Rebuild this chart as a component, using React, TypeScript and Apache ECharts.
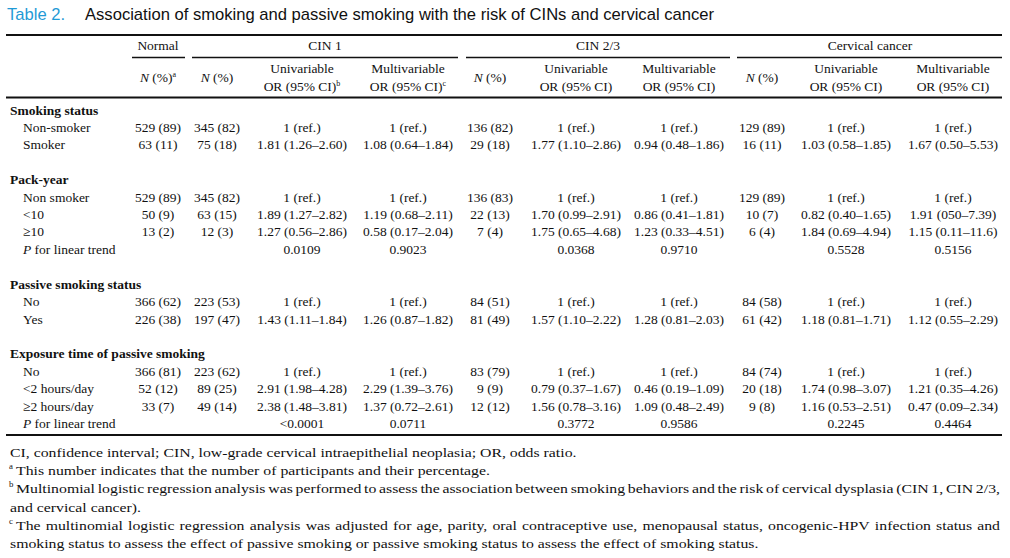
import React, { useEffect, useRef } from "react";
import * as echarts from "echarts";

const titleLabel = "Table 2.";
const titleText = "Association of smoking and passive smoking with the risk of CINs and cervical cancer";
const groups = ["Normal", "CIN 1", "CIN 2/3", "Cervical cancer"];

const rowLabels = [
  "Smoking status", "Non-smoker", "Smoker", "",
  "Pack-year", "Non smoker", "<10", "≥10", "P for linear trend", "",
  "Passive smoking status", "No", "Yes", "",
  "Exposure time of passive smoking", "No", "<2 hours/day", "≥2 hours/day", "P for linear trend",
];
const rowKinds = [
  "h", "i", "i", "b",
  "h", "i", "i", "i", "p", "b",
  "h", "i", "i", "b",
  "h", "i", "i", "i", "p",
];

const normalN = ["", "529 (89)", "63 (11)", "", "", "529 (89)", "50 (9)", "13 (2)", "", "", "", "366 (62)", "226 (38)", "", "", "366 (81)", "52 (12)", "33 (7)", ""];
const cin1N = ["", "345 (82)", "75 (18)", "", "", "345 (82)", "63 (15)", "12 (3)", "", "", "", "223 (53)", "197 (47)", "", "", "223 (62)", "89 (25)", "49 (14)", ""];
const cin1Uni = ["", "1 (ref.)", "1.81 (1.26–2.60)", "", "", "1 (ref.)", "1.89 (1.27–2.82)", "1.27 (0.56–2.86)", "0.0109", "", "", "1 (ref.)", "1.43 (1.11–1.84)", "", "", "1 (ref.)", "2.91 (1.98–4.28)", "2.38 (1.48–3.81)", "<0.0001"];
const cin1Multi = ["", "1 (ref.)", "1.08 (0.64–1.84)", "", "", "1 (ref.)", "1.19 (0.68–2.11)", "0.58 (0.17–2.04)", "0.9023", "", "", "1 (ref.)", "1.26 (0.87–1.82)", "", "", "1 (ref.)", "2.29 (1.39–3.76)", "1.37 (0.72–2.61)", "0.0711"];
const cin23N = ["", "136 (82)", "29 (18)", "", "", "136 (83)", "22 (13)", "7 (4)", "", "", "", "84 (51)", "81 (49)", "", "", "83 (79)", "9 (9)", "12 (12)", ""];
const cin23Uni = ["", "1 (ref.)", "1.77 (1.10–2.86)", "", "", "1 (ref.)", "1.70 (0.99–2.91)", "1.75 (0.65–4.68)", "0.0368", "", "", "1 (ref.)", "1.57 (1.10–2.22)", "", "", "1 (ref.)", "0.79 (0.37–1.67)", "1.56 (0.78–3.16)", "0.3772"];
const cin23Multi = ["", "1 (ref.)", "0.94 (0.48–1.86)", "", "", "1 (ref.)", "0.86 (0.41–1.81)", "1.23 (0.33–4.51)", "0.9710", "", "", "1 (ref.)", "1.28 (0.81–2.03)", "", "", "1 (ref.)", "0.46 (0.19–1.09)", "1.09 (0.48–2.49)", "0.9586"];
const cancerN = ["", "129 (89)", "16 (11)", "", "", "129 (89)", "10 (7)", "6 (4)", "", "", "", "84 (58)", "61 (42)", "", "", "84 (74)", "20 (18)", "9 (8)", ""];
const cancerUni = ["", "1 (ref.)", "1.03 (0.58–1.85)", "", "", "1 (ref.)", "0.82 (0.40–1.65)", "1.84 (0.69–4.94)", "0.5528", "", "", "1 (ref.)", "1.18 (0.81–1.71)", "", "", "1 (ref.)", "1.74 (0.98–3.07)", "1.16 (0.53–2.51)", "0.2245"];
const cancerMulti = ["", "1 (ref.)", "1.67 (0.50–5.53)", "", "", "1 (ref.)", "1.91 (050–7.39)", "1.15 (0.11–11.6)", "0.5156", "", "", "1 (ref.)", "1.12 (0.55–2.29)", "", "", "1 (ref.)", "1.21 (0.35–4.26)", "0.47 (0.09–2.34)", "0.4464"];

const headerSup = ["a", "b", "c"];
const footnotes = [
  { sup: "", text: "CI, confidence interval; CIN, low-grade cervical intraepithelial neoplasia; OR, odds ratio.", justify: false },
  { sup: "a", text: "This number indicates that the number of participants and their percentage.", justify: false },
  { sup: "b", text: "Multinomial logistic regression analysis was performed to assess the association between smoking behaviors and the risk of cervical dysplasia (CIN 1, CIN 2/3,", justify: true },
  { sup: "", text: "and cervical cancer).", justify: false },
  { sup: "c", text: "The multinomial logistic regression analysis was adjusted for age, parity, oral contraceptive use, menopausal status, oncogenic-HPV infection status and", justify: true },
  { sup: "", text: "smoking status to assess the effect of passive smoking or passive smoking status to assess the effect of smoking status.", justify: false },
];

const SERIF = '"Liberation Serif", "Times New Roman", serif';
const SANS = '"Liberation Sans", Arial, sans-serif';
const FS = 13.5;
const FFS = 13.5;
const FSCALE = 1.17;
const INK = "#111";

function T(x: number, y: number, text: string, extra: any = {}, el: any = {}) {
  return {
    type: "text",
    x,
    y,
    silent: true,
    ...el,
    style: {
      text,
      fontFamily: SERIF,
      fontSize: FS,
      fill: INK,
      align: "center",
      verticalAlign: "middle",
      ...extra,
    },
  };
}

const richBase = {
  it: { fontFamily: SERIF, fontSize: FS, fontStyle: "italic", fill: INK },
  n: { fontFamily: SERIF, fontSize: FS, fill: INK },
  sup: { fontFamily: SERIF, fontSize: 8, fill: INK, verticalAlign: "top", padding: [0, 0, 6, 0] },
};

function measure(text: string, font: string) {
  const c = document.createElement("canvas").getContext("2d")!;
  c.font = font;
  return c.measureText(text).width;
}

function buildGraphics() {
  const g: any[] = [];
  // title
  g.push(T(7, 14, titleLabel, { fontFamily: SANS, fontSize: 16.6, fill: "#1f9ad6", align: "left" }));
  g.push(T(85, 14, titleText, { fontFamily: SANS, fontSize: 16.6, fill: "#111", align: "left" }));

  const line = (x1: number, y1: number, x2: number, y2: number, w: number) =>
    g.push({ type: "line", silent: true, shape: { x1, y1, x2, y2 }, style: { stroke: "#111", lineWidth: w } });

  line(6, 35, 1002, 35, 2);
  line(6, 97.5, 1002, 97.5, 2);
  line(6, 435, 1002, 435, 2);
  const spans = [[132, 185], [192, 458], [466, 730], [737, 1002]];
  const groupCenters = [158, 325, 598, 870];
  spans.forEach((s, i) => {
    line(s[0], 57.5, s[1], 57.5, 1.5);
    g.push(T(groupCenters[i], 45, groups[i]));
  });

  const colX = [158, 217, 302, 408, 490, 576, 679, 762, 846, 953];
  const cols = [normalN, cin1N, cin1Uni, cin1Multi, cin23N, cin23Uni, cin23Multi, cancerN, cancerUni, cancerMulti];
  const colKind = ["n", "n", "u", "m", "n", "u", "m", "n", "u", "m"];

  // sub header
  colKind.forEach((k, ci) => {
    const x = colX[ci];
    if (k === "n") {
      const sup = ci === 0 ? `{sup|${headerSup[0]}}` : "";
      g.push(T(x, 77, `{it|N}{n| (%)}${sup}`, { rich: richBase }));
    } else {
      const label = k === "u" ? "Univariable" : "Multivariable";
      g.push(T(x, 68, label));
      const sup = ci === 2 ? `{sup|${headerSup[1]}}` : ci === 3 ? `{sup|${headerSup[2]}}` : "";
      g.push(T(x, 86, `{n|OR (95% CI)}${sup}`, { rich: richBase }));
    }
  });

  const rowY0 = 110;
  const rowStep = 17.42;
  rowLabels.forEach((lab, ri) => {
    const y = rowY0 + ri * rowStep;
    const kind = rowKinds[ri];
    if (kind === "h") {
      g.push(T(10, y, lab, { align: "left", fontWeight: "bold" }));
    } else if (kind === "i") {
      g.push(T(23, y, lab, { align: "left" }));
    } else if (kind === "p") {
      const rest = lab.slice(1);
      g.push(T(23, y, `{it|${lab[0]}}{n|${rest}}`, { align: "left", rich: richBase }));
    }
    cols.forEach((col, ci) => {
      const v = col[ri];
      if (v) g.push(T(colX[ci], y, v));
    });
  });

  // footnotes
  const fy0 = 452.5;
  const fstep = 18.2;
  const fFont = `${FFS}px ${SERIF}`;
  const right = 1000;
  footnotes.forEach((f, fi) => {
    const y = fy0 + fi * fstep;
    let x = 10;
    if (f.sup) {
      g.push(T(9, y - 4, f.sup, { align: "left", fontSize: 8 }, { scaleX: 1.1 }));
      x = 16;
    }
    if (!f.justify) {
      g.push(T(x, y, f.text, { align: "left", fontSize: FFS }, { scaleX: FSCALE }));
    } else {
      const words = f.text.split(" ");
      const widths = words.map((w) => measure(w, fFont) * FSCALE);
      const total = widths.reduce((a, b) => a + b, 0);
      const gap = (right - x - total) / (words.length - 1);
      let cx = x;
      words.forEach((w, wi) => {
        g.push(T(cx, y, w, { align: "left", fontSize: FFS }, { scaleX: FSCALE }));
        cx += widths[wi] + gap;
      });
    }
  });
  return g;
}

export default function App() {
  const ref = useRef<HTMLDivElement>(null);
  useEffect(() => {
    document.body.style.margin = "0";
    const chart = echarts.init(ref.current!, null, { renderer: "svg" });
    chart.setOption({
      animation: false,
      backgroundColor: "#fff",
      graphic: { elements: buildGraphics() },
    });
    return () => chart.dispose();
  }, []);
  return <div ref={ref} style={{ width: 1010, height: 558 }} />;
}
